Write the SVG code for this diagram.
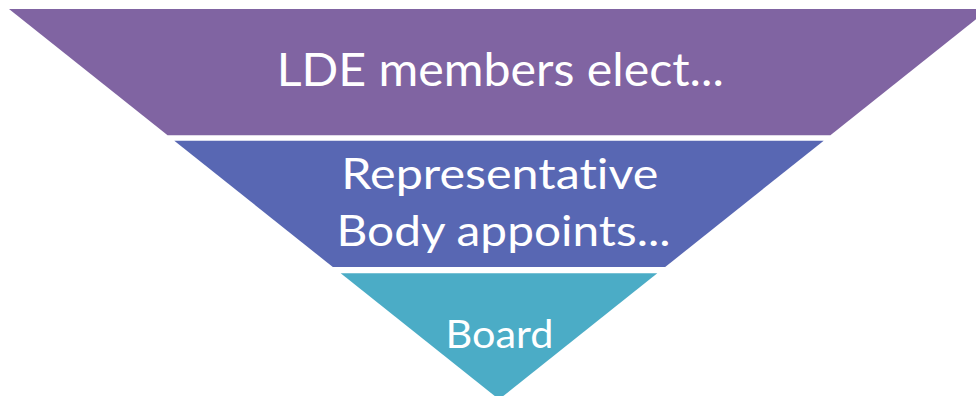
<svg xmlns="http://www.w3.org/2000/svg" width="976" height="396" viewBox="0 0 976 396">
  <style>
    .lbl { font-family: Lato, "Open Sans", "Liberation Sans", sans-serif; fill: #ffffff; text-anchor: middle; font-variant-ligatures: none; font-feature-settings: "liga" 0, "dlig" 0; }
  </style>
  <rect width="976" height="396" fill="#ffffff"/>
  <g id="level1">
    <polygon points="9,9 989,9 830.4,135.3 167.6,135.3" fill="#8064A2"/>
    <text class="lbl" x="500.3" y="86" font-size="46.5" textLength="447" lengthAdjust="spacingAndGlyphs">LDE members elect...</text>
  </g>
  <g id="level2">
    <polygon points="174.3,140.7 823.7,140.7 665.2,267 332.8,267" fill="#5867B3"/>
    <text class="lbl" x="499.8" y="189" font-size="43" textLength="317" lengthAdjust="spacingAndGlyphs">Representative</text>
    <text class="lbl" x="503.5" y="246" font-size="43" textLength="334" lengthAdjust="spacingAndGlyphs">Body appoints...</text>
  </g>
  <g id="level3">
    <polygon points="340.7,273.3 657.3,273.3 499,399.4" fill="#4BACC6"/>
    <text class="lbl" x="499.5" y="348" font-size="38" textLength="108" lengthAdjust="spacingAndGlyphs">Board</text>
  </g>
  <g id="connectors"/>
</svg>
